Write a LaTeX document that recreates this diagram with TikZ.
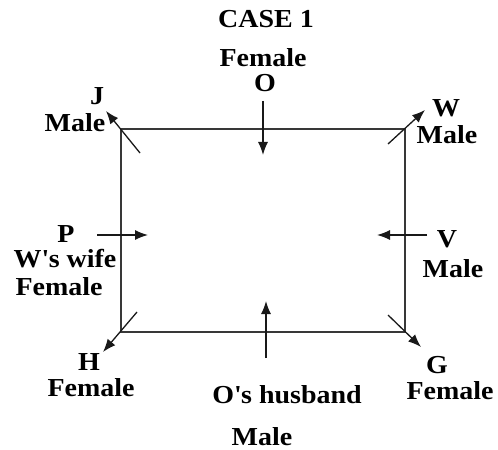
\documentclass[tikz,border=0pt]{standalone}
\usepackage{fontspec}
\setmainfont{Liberation Serif}[FakeStretch=1.08]
\usetikzlibrary{arrows.meta}
\begin{document}
\begin{tikzpicture}[x=1bp,y=-1bp,
  lbl/.style={font=\fontsize{26}{28}\selectfont\bfseries, inner sep=0pt, anchor=base},
  arr/.style={-{Latex[length=13bp,width=10bp]}, line width=1.3bp, draw=black!90},
  box/.style={line width=1.5bp, draw=black!78}]
\useasboundingbox (0,0) rectangle (498,450);
% rectangle corners
\coordinate (tl) at (121,129);
\coordinate (tr) at (405,129);
\coordinate (br) at (405,332);
\coordinate (bl) at (121,332);
\draw[box] (tl) -- (tr) -- (br) -- (bl) -- cycle;
% texts
\node[lbl] (case) at (266,28) {CASE 1};
\node[lbl] (ofem) at (263,67) {Female};
\node[lbl] (o) at (265,92) {O};
\node[lbl] (j) at (97,105) {J};
\node[lbl] (jmale) at (75,132) {Male};
\node[lbl] (w) at (446,117) {W};
\node[lbl] (wmale) at (447,144) {Male};
\node[lbl] (p) at (66,243) {P};
\node[lbl] (pwife) at (65,267) {W\textquotesingle s wife};
\node[lbl] (pfem) at (59,295) {Female};
\node[lbl] (v) at (447,248) {V};
\node[lbl] (vmale) at (453,277) {Male};
\node[lbl] (h) at (89,370) {H};
\node[lbl] (hfem) at (91,396) {Female};
\node[lbl] (g) at (437,373) {G};
\node[lbl] (gfem) at (450,399) {Female};
\node[lbl] (ohus) at (287,403) {O\textquotesingle s husband};
\node[lbl] (omale) at (262,445) {Male};
% arrow end points
\coordinate (oa) at (263,101);
\coordinate (ob) at (263,155);
\coordinate (pa) at (97,235);
\coordinate (pb) at (148,235);
\coordinate (va) at (427,235);
\coordinate (vb) at (377,235);
\coordinate (ba) at (266,358);
\coordinate (bb) at (266,301);
\coordinate (ja) at (140,153);
\coordinate (jb) at (106,111);
\coordinate (wa) at (388,144);
\coordinate (wb) at (425,110);
\coordinate (ha) at (137,312);
\coordinate (hb) at (103,352);
\coordinate (ga) at (388,315);
\coordinate (gb) at (421,347);
\draw[arr] (oa) -- (ob);
\draw[arr] (pa) -- (pb);
\draw[arr] (va) -- (vb);
\draw[arr] (ba) -- (bb);
\draw[arr] (ja) -- (jb);
\draw[arr] (wa) -- (wb);
\draw[arr] (ha) -- (hb);
\draw[arr] (ga) -- (gb);
\end{tikzpicture}
\end{document}
